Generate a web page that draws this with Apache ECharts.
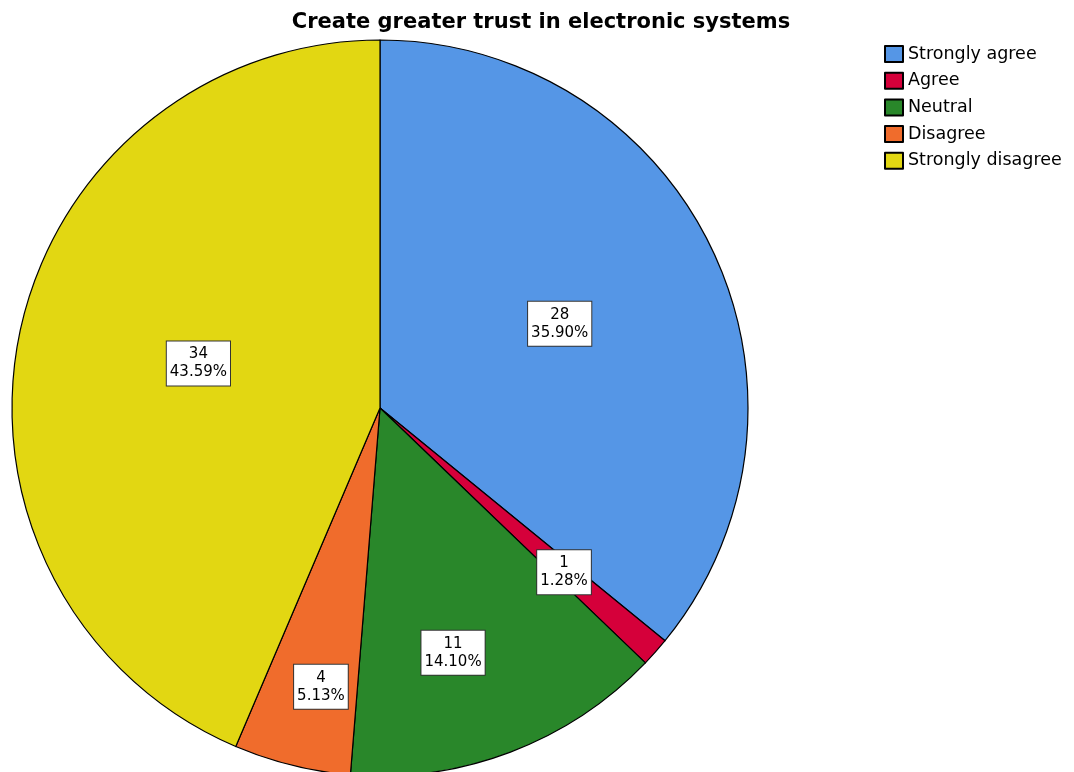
<!DOCTYPE html>
<html><head><meta charset="utf-8">
<script src="https://cdn.jsdelivr.net/npm/echarts@6/dist/echarts.min.js"></script>
<style>html,body{margin:0;padding:0;background:#fff}#c{width:1074px;height:772px}</style>
</head><body><div id="c"></div>
<script>
const categories = ['Strongly agree', 'Agree', 'Neutral', 'Disagree', 'Strongly disagree'];
const counts = [28, 1, 11, 4, 34];
const percentLabels = ['35.90%', '1.28%', '14.10%', '5.13%', '43.59%'];
const colors = ['#5596e6', '#d5003a', '#29872a', '#f06c2c', '#e2d712'];
const labelRadiusFrac = [0.531, 0.662, 0.686, 0.766, 0.50];
const labelAngleShiftDeg = [0.3, 0.2, 4.2, -1.9, 2.3];

const CX = 380, CY = 408, R = 368;
const total = counts.reduce((a, b) => a + b, 0);
const midAngles = [];
let acc = 0;
counts.forEach(v => { midAngles.push((acc + v / 2) / total * 2 * Math.PI); acc += v; });

const chart = echarts.init(document.getElementById('c'));
chart.setOption({
  animation: false,
  title: {
    text: 'Create greater trust in electronic systems',
    left: 536, top: 7, textAlign: 'center',
    textStyle: { fontFamily: 'DejaVu Sans', fontSize: 21, fontWeight: 'bold', color: '#000' }
  },
  legend: {
    orient: 'vertical', left: 879, top: 40,
    icon: 'rect',
    itemWidth: 18, itemHeight: 16, itemGap: 8.7,
    textStyle: { fontFamily: 'DejaVu Sans', fontSize: 17.5, color: '#000', padding: [0, 0, 0, 0] },
    data: categories
  },
  series: [{
    type: 'pie',
    center: [CX, CY], radius: [0, R],
    startAngle: 90, clockwise: true,
    itemStyle: { borderColor: '#000', borderWidth: 1.2 },
    label: {
      position: 'inside',
      formatter: p => p.value + '\n' + percentLabels[p.dataIndex],
      fontFamily: 'DejaVu Sans', fontSize: 15, color: '#000', lineHeight: 18,
      backgroundColor: '#fff', borderColor: '#333', borderWidth: 1,
      padding: [5, 3, 3, 3], align: 'center'
    },
    labelLayout: p => {
      const i = p.dataIndex, a = midAngles[i];
      const t = a + labelAngleShiftDeg[i] * Math.PI / 180;
      const fr = labelRadiusFrac[i] * R, h = 0.5 * R;
      return {
        dx: fr * Math.sin(t) - h * Math.sin(a),
        dy: -fr * Math.cos(t) + h * Math.cos(a)
      };
    },
    emphasis: { disabled: true },
    data: categories.map((c, i) => ({ name: c, value: counts[i], itemStyle: { color: colors[i] } }))
  }]
});
</script></body></html>
